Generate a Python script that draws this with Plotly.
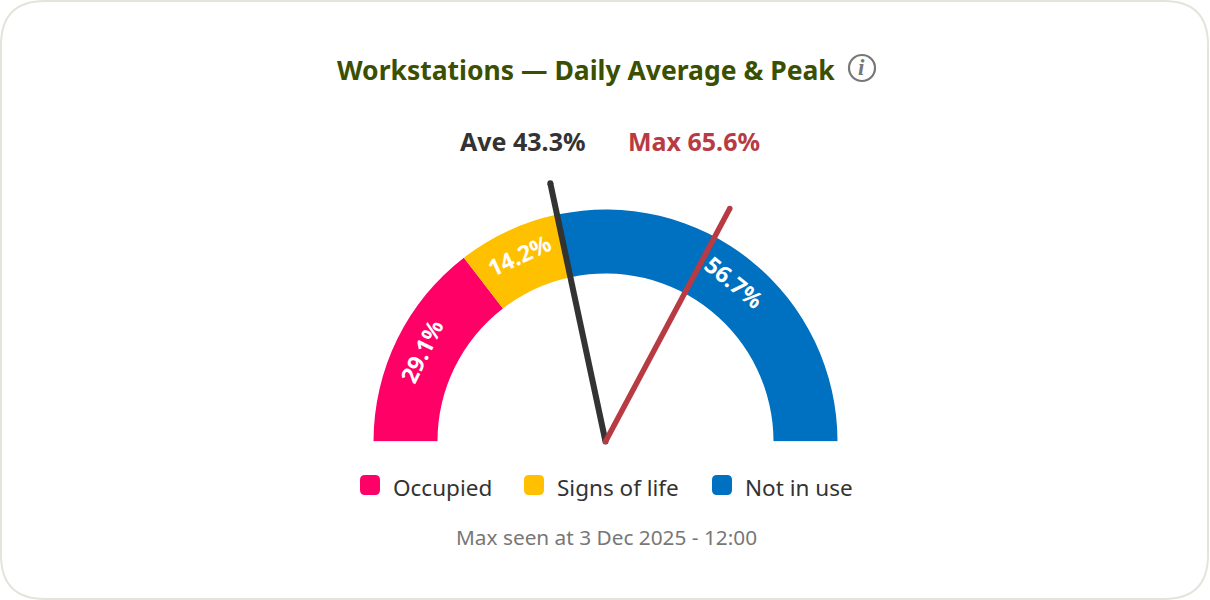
import math
import plotly.graph_objects as go

categories = ["Occupied", "Signs of life", "Not in use"]
shares = [29.1, 14.2, 56.7]
colors = ["#FF0066", "#FFC000", "#0070C0"]
average = 43.3
peak = 65.6
title_text = "Workstations — Daily Average & Peak"
footnote = "Max seen at 3 Dec 2025 - 12:00"

W, H = 1210, 600
CX, CY = 605.5, 441.5
R_OUT, R_IN, R_NEEDLE = 232, 168, 264
FONT = "Noto Sans, Open Sans, sans-serif"

def px(x):
    return x / W

def py(y):
    return 1 - y / H

def rrect(x0, y0, x1, y1, r):
    X0, X1, Y0, Y1 = px(x0), px(x1), py(y0), py(y1)
    rx, ry = r / W, r / H
    return (f"M{X0+rx},{Y0} L{X1-rx},{Y0} Q{X1},{Y0} {X1},{Y0-ry} L{X1},{Y1+ry} Q{X1},{Y1} {X1-rx},{Y1} "
            f"L{X0+rx},{Y1} Q{X0},{Y1} {X0},{Y1+ry} L{X0},{Y0-ry} Q{X0},{Y0} {X0+rx},{Y0} Z")

fig = go.Figure()

start = 0.0
mids = []
for name, val, col in zip(categories, shares, colors):
    mid = start + val / 2
    mids.append(mid)
    fig.add_trace(go.Barpolar(name=name, theta=[mid * 1.8], width=[val * 1.8], r=[R_OUT - R_IN], base=[R_IN],
                              marker=dict(color=col, line=dict(width=0)), hoverinfo="name"))
    start += val

for name, val, col, w in [("Ave", average, "#333333", 6), ("Max", peak, "#B83B44", 5.5)]:
    fig.add_trace(go.Scatterpolar(name=name, theta=[val * 1.8, val * 1.8], r=[0, R_NEEDLE], mode="lines+markers",
                                  line=dict(color=col, width=w), marker=dict(color=col, size=w, line=dict(width=0)),
                                  cliponaxis=False, hoverinfo="name"))

ann = []
def text(x, y, s, size, color, bold=False, angle=0, anchor="center", italic=False, family=FONT):
    if bold:
        s = f"<b>{s}</b>"
    if italic:
        s = f"<i>{s}</i>"
    ann.append(dict(x=px(x), y=py(y), xref="paper", yref="paper", text=s, showarrow=False, textangle=angle,
                    xanchor=anchor, yanchor="middle", font=dict(family=family, size=size, color=color)))

text(586, 70, title_text, 26.5, "#3A5000", bold=True)
text(522, 141, f"Ave {average}%", 25, "#333333", bold=True)
text(693.5, 141, f"Max {peak}%", 25, "#B83B44", bold=True)
text(861.5, 68, "<b>i</b>", 23, "#777777", italic=True, family="Liberation Serif, serif")
text(606.5, 537, footnote, 20.8, "#777777")

R_LABEL = (R_OUT + R_IN) / 2 + 5
for val, mid in zip(shares, mids):
    a = math.radians(mid * 1.8)
    text(CX - R_LABEL * math.cos(a), CY - R_LABEL * math.sin(a), f"{val}%", 23, "#FFFFFF", bold=True, angle=mid * 1.8 - 90)

shapes = [
    dict(type="path", xref="paper", yref="paper", path=rrect(1, 1, 1208, 599, 44),
         fillcolor="#FFFFFF", line=dict(color="#E4E4DC", width=2), layer="below"),
    dict(type="circle", xref="paper", yref="paper", x0=px(849), x1=px(875), y0=py(81), y1=py(55),
         line=dict(color="#777777", width=2.2), layer="above"),
]

legend_x = [(360, 390.5), (524, 554.5), (712, 742.5)]
for (sx, tx), name, col in zip(legend_x, categories, colors):
    shapes.append(dict(type="path", xref="paper", yref="paper", path=rrect(sx, 475, sx + 20, 495, 5),
                       fillcolor=col, line=dict(width=0)))
    text(tx, 487, name, 22.5, "#333333", anchor="left")

fig.update_layout(
    width=W, height=H, margin=dict(l=0, r=0, t=0, b=0), showlegend=False,
    paper_bgcolor="#FFFFFF", plot_bgcolor="rgba(0,0,0,0)",
    annotations=ann, shapes=shapes,
    polar=dict(
        domain=dict(x=[px(CX - R_NEEDLE), px(CX + R_NEEDLE)], y=[py(CY), py(CY - R_NEEDLE)]),
        sector=[0, 180], bgcolor="rgba(0,0,0,0)", bargap=0,
        angularaxis=dict(visible=False, direction="clockwise", rotation=180, thetaunit="degrees"),
        radialaxis=dict(visible=False, range=[0, R_NEEDLE]),
    ),
)

fig.write_html("out.html", config={"displayModeBar": False},
               post_script="document.body.style.margin='0';document.body.style.overflow='hidden';")
